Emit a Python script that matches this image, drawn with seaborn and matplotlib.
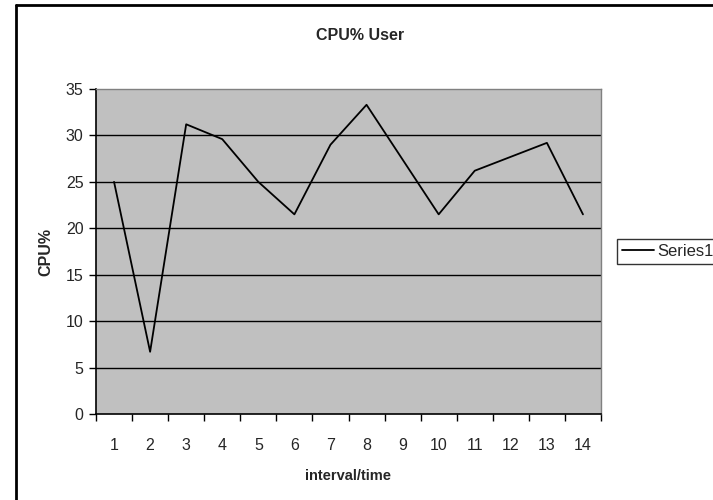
import pandas as pd
import seaborn as sns
import matplotlib.pyplot as plt
from matplotlib.lines import Line2D

# data
intervals = list(range(1, 15))
cpu_user = [25.0, 6.7, 31.2, 29.6, 25.0, 21.5, 29.0, 33.3, 27.4, 21.5, 26.2, 27.7, 29.2, 21.5]
y_ticks = [0, 5, 10, 15, 20, 25, 30, 35]

df = pd.DataFrame({'interval': intervals, 'cpu': cpu_user})

sns.set_style('white')
plt.rcParams['font.family'] = ['Liberation Sans', 'DejaVu Sans']

fig = plt.figure(figsize=(7.13, 5.0), dpi=100)
ax = fig.add_axes([96 / 713, 86 / 500, 505 / 713, 325 / 500])
ax.set_facecolor('#c0c0c0')

sns.lineplot(data=df, x='interval', y='cpu', color='black', linewidth=1.3, ax=ax, legend=False)

ax.set_xlim(0.5, 14.5)
ax.set_ylim(0, 35)
ax.set_yticks(y_ticks)
ax.set_yticklabels([str(v) for v in y_ticks], fontsize=11.5)
for v in y_ticks[1:-1]:
    ax.axhline(v, color='black', linewidth=1, zorder=1)

# category ticks at the boundaries, labels at the centres
ax.set_xticks([i + 0.5 for i in range(0, 15)])
ax.set_xticklabels([])
ax.set_xticks(intervals, minor=True)
ax.set_xticklabels([str(i) for i in intervals], minor=True, fontsize=11.5)
ax.tick_params(axis='x', which='major', direction='out', length=5, width=1, color='black', bottom=True)
ax.tick_params(axis='x', which='minor', length=0, pad=17)
ax.tick_params(axis='y', direction='out', length=5, width=1, color='black', left=True, pad=4)

for side in ['left', 'bottom']:
    ax.spines[side].set_color('black')
    ax.spines[side].set_linewidth(1.2)
for side in ['top', 'right']:
    ax.spines[side].set_color('#808080')
    ax.spines[side].set_linewidth(1)

ax.set_xlabel('interval/time', fontsize=10.5, fontweight='bold', labelpad=12)
ax.set_ylabel('CPU%', fontsize=11.5, fontweight='bold', labelpad=9)

fig.text(360 / 713, 465 / 500, 'CPU% User', ha='center', va='center', fontsize=11.5, fontweight='bold')

# legend sits right at the figure edge, as in the reference
handle = [Line2D([0], [0], color='black', linewidth=1.3)]
leg = fig.legend(handle, ['Series1'], loc='center left', bbox_to_anchor=(617 / 713, 249 / 500),
                 frameon=True, fancybox=False, fontsize=12, handlelength=1.9, handletextpad=0.2,
                 borderpad=0.3, borderaxespad=0)
leg.get_frame().set_edgecolor('black')
leg.get_frame().set_linewidth(1)

# outer chart border: only left and top visible in the reference
fig.add_artist(Line2D([16 / 713, 16 / 713], [0, 495 / 500], color='black', linewidth=2, transform=fig.transFigure))
fig.add_artist(Line2D([16 / 713, 1], [495 / 500, 495 / 500], color='black', linewidth=2, transform=fig.transFigure))

fig.savefig('out.png', dpi=100)
